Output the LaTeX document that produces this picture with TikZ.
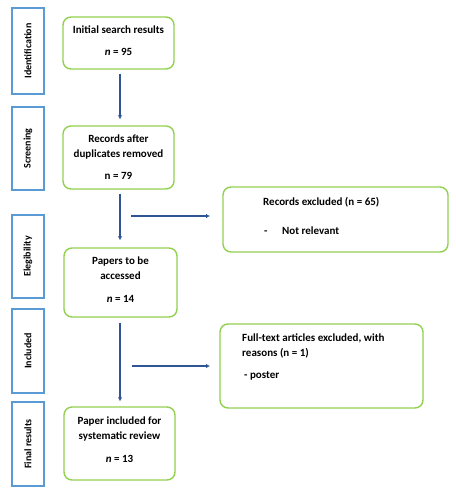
\documentclass[tikz,border=0pt]{standalone}
\usepackage{fontspec}
\setmainfont{Carlito}
\usetikzlibrary{arrows.meta}
\definecolor{gbox}{RGB}{146,208,80}
\definecolor{sbox}{RGB}{91,155,213}
\definecolor{arr}{RGB}{47,85,151}
\begin{document}
\begin{tikzpicture}[x=1pt,y=-1pt,
  mainbox/.style={draw=gbox,line width=1.4pt,rounded corners=8pt,fill=white},
  sidebox/.style={draw=sbox,line width=1.4pt,fill=white},
  sidelabel/.style={rotate=90,font=\bfseries\fontsize{10}{12}\selectfont},
  txt/.style={font=\bfseries\fontsize{11}{13}\selectfont,inner sep=0pt,text height=7.5pt,text depth=2pt},
  flow/.style={draw=arr,line width=2.2pt,-{Latex[length=4pt,width=4.5pt]}}]
\useasboundingbox (0,0) rectangle (455,500);
% side boxes
\draw[sidebox] (12,8) rectangle (44,94);
\node[sidelabel] (sl1) at (28,51) {Identification};
\draw[sidebox] (12,107) rectangle (44,190);
\node[sidelabel] (sl2) at (28,148.5) {Screening};
\draw[sidebox] (12,215) rectangle (44,298);
\node[sidelabel] (sl3) at (28,256.5) {Elegibility};
\draw[sidebox] (12,309) rectangle (44,393);
\node[sidelabel] (sl4) at (28,351) {Included};
\draw[sidebox] (12,402) rectangle (44,486);
\node[sidelabel] (sl5) at (28,444) {Final results};
% main boxes
\node[mainbox,minimum width=111pt,minimum height=52pt] (b1) at (118.5,43) {};
\node[txt] (t1a) at (118.5,31) {Initial search results};
\node[txt] (t1b) at (118.5,53) {\textit{n} = 95};
\node[mainbox,minimum width=111pt,minimum height=63pt] (b2) at (118.5,157.5) {};
\node[txt] (t2a) at (118.5,140) {Records after};
\node[txt] (t2b) at (118.5,155) {duplicates removed};
\node[txt] (t2c) at (118.5,177) {n = 79};
\node[mainbox,minimum width=113pt,minimum height=69pt] (b3) at (120.5,282.5) {};
\node[txt] (t3a) at (120.5,262) {Papers to be};
\node[txt] (t3b) at (120.5,277) {accessed};
\node[txt] (t3c) at (120.5,300) {\textit{n} = 14};
\node[mainbox,minimum width=111pt,minimum height=73pt] (b5) at (119.5,443.5) {};
\node[txt] (t5a) at (119.5,422) {Paper included for};
\node[txt] (t5b) at (119.5,437) {systematic review};
\node[txt] (t5c) at (119.5,460) {\textit{n} = 13};
% right boxes
\node[mainbox,minimum width=225pt,minimum height=65pt] (r1) at (335.5,219.5) {};
\node[txt,anchor=west] (r1a) at (263,203) {Records excluded (n = 65)};
\node[txt,anchor=west] (r1b) at (264,232) {-};
\node[txt,anchor=west] (r1c) at (282,232) {Not relevant};
\node[mainbox,minimum width=203pt,minimum height=84pt] (r2) at (321.5,366) {};
\node[txt,anchor=west] (r2a) at (242,339) {Full-text articles excluded, with};
\node[txt,anchor=west] (r2b) at (242,354) {reasons (n = 1)};
\node[txt,anchor=west] (r2c) at (244,376) {- poster};
% arrows
\coordinate (h1s) at (131,216);
\coordinate (h1e) at (210,216);
\coordinate (h2s) at (132,366);
\coordinate (h2e) at (210,366);
\draw[flow] ([yshift=-4pt]b1.south -| 120,0) -- ([yshift=6pt]b2.north -| 120,0);
\draw[flow] ([yshift=-4pt]b2.south -| 120,0) -- ([yshift=7pt]b3.north -| 120,0);
\draw[flow] ([yshift=-5pt]b3.south -| 120,0) -- ([yshift=5pt]b5.north -| 120,0);
\draw[flow] (h1s) -- (h1e);
\draw[flow] (h2s) -- (h2e);
\end{tikzpicture}
\end{document}
